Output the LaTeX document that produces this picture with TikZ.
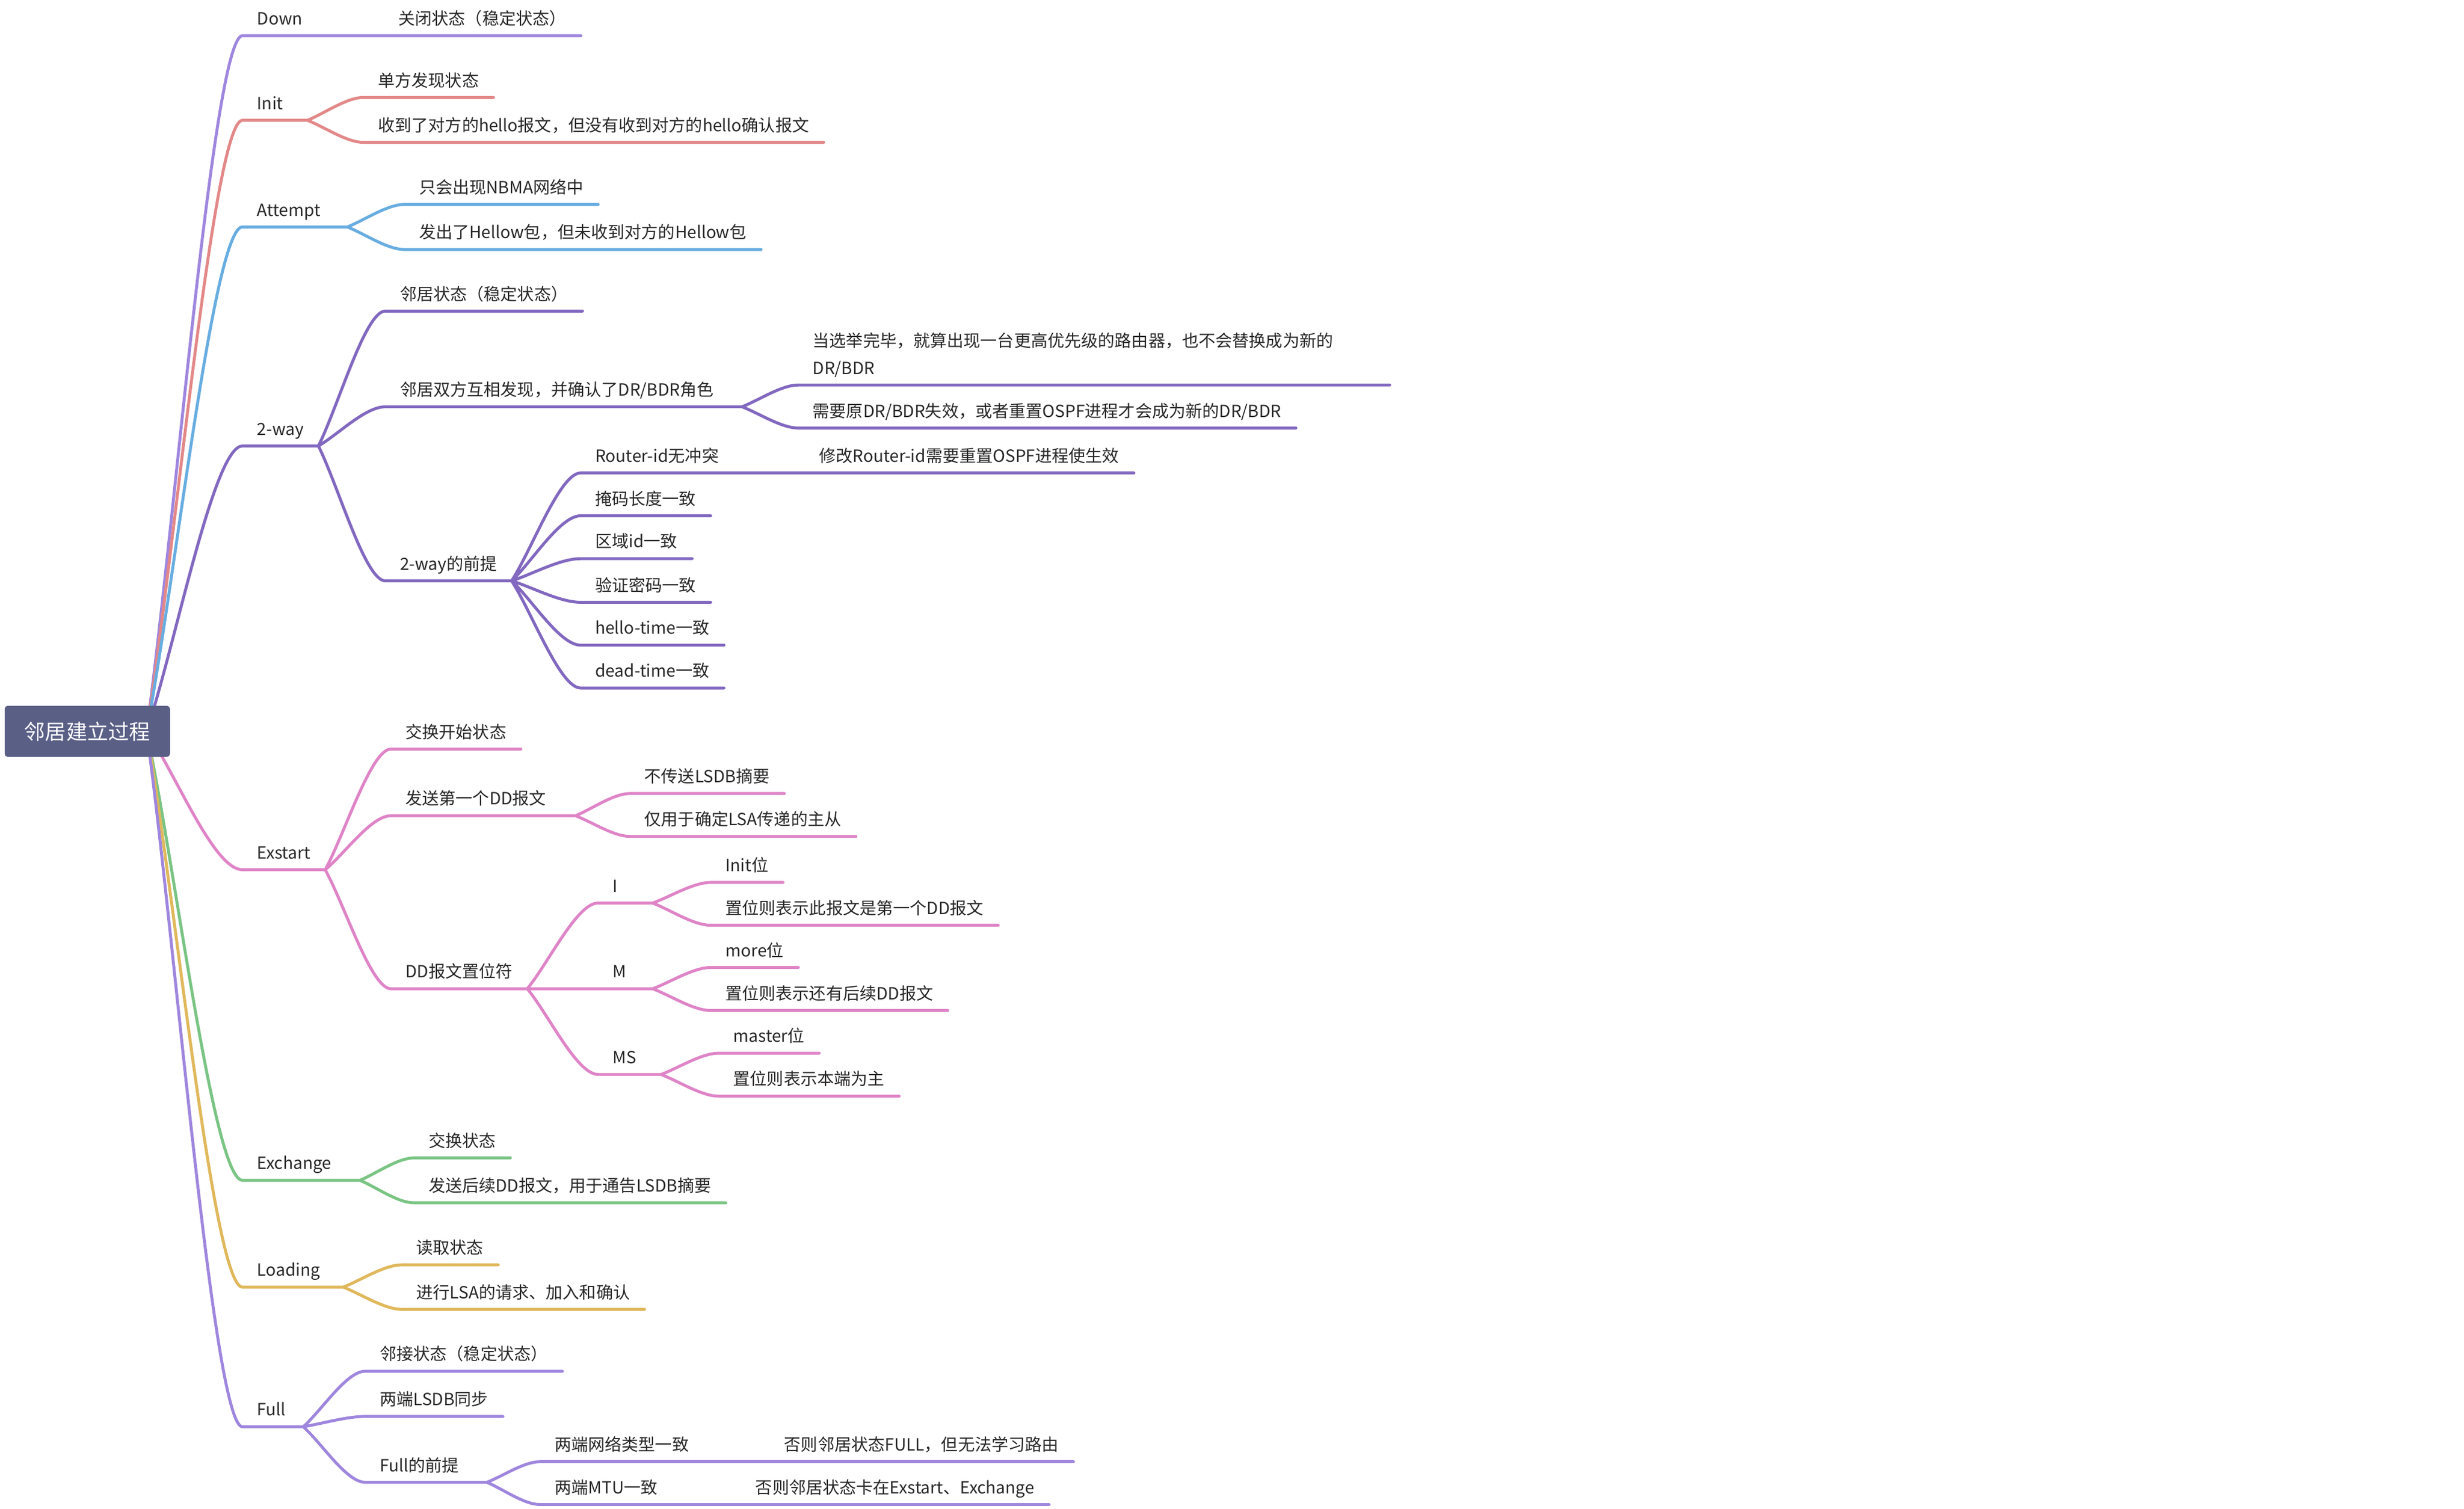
\documentclass[tikz,border=0pt]{standalone}
\usepackage{fontspec}
\setmainfont{Noto Sans CJK SC}
\usepackage{tikz}
\usetikzlibrary{calc,backgrounds}
\definecolor{croot}{RGB}{90,95,134}
\definecolor{ctxt}{RGB}{40,40,40}
\definecolor{clav}{RGB}{159,134,222}
\definecolor{csal}{RGB}{227,136,136}
\definecolor{cblu}{RGB}{104,173,225}
\definecolor{cpur}{RGB}{130,104,192}
\definecolor{cpnk}{RGB}{223,132,199}
\definecolor{cgrn}{RGB}{122,196,132}
\definecolor{cgld}{RGB}{224,184,92}
\tikzstyle{tp}=[anchor=south west,inner xsep=7pt,inner ysep=5.2pt,outer sep=0pt,text depth=0pt,text=ctxt,font=\fontsize{8pt}{12.9pt}\selectfont]
\tikzstyle{rt}=[fill=croot,text=white,rounded corners=1.5pt,minimum width=78.8pt,minimum height=24.4pt,inner sep=0pt,font=\fontsize{10pt}{12pt}\selectfont]
\tikzstyle{br}=[line width=1.4pt,line cap=round,to path={.. controls ($(\tikztostart)!0.3!(\tikztotarget)$) and ($(\tikztotarget)!0.3!(\tikztostart |- \tikztotarget)$) .. (\tikztotarget)}]

\begin{document}
\begin{tikzpicture}[x=0.026598cm,y=-0.026598cm]
	\useasboundingbox (0,0) rectangle (1552,950.45);

	\node[rt] (root) at (55,460.8) {邻居建立过程};
	\coordinate (o) at ($(root.east)+(-15,0)$);

	\node[tp] (down) at (152.7,22.5) {Down};
	\node[tp] (downa) at (241.7,22.5) {关闭状态（稳定状态）};

	\node[tp,text width=17pt] (init) at (152.7,75.8) {Init};
	\node[tp] (inita) at (228.9,61.4) {单方发现状态};
	\node[tp] (initb) at (228.9,89.7) {收到了对方的hello报文，但没有收到对方的hello确认报文};

	\node[tp,text width=36pt] (att) at (152.7,143) {Attempt};
	\node[tp] (atta) at (254.7,128.8) {只会出现NBMA网络中};
	\node[tp] (attb) at (254.7,157.2) {发出了Hellow包，但未收到对方的Hellow包};

	\node[tp] (two) at (152.7,281) {2-way};
	\node[tp] (twoa) at (242.7,196) {邻居状态（稳定状态）};
	\node[tp,text width=156pt] (twob) at (242.7,256.3) {邻居双方互相发现，并确认了DR/BDR角色};
	\node[tp] (twoba) at (502.7,242.6) {\begin{tabular}[b]{@{}p{268pt}@{}}当选举完毕，就算出现一台更高优先级的路由器，也不会替换成为新的\\DR/BDR\end{tabular}};
	\node[tp] (twobb) at (502.7,269.7) {需要原DR/BDR失效，或者重置OSPF进程才会成为新的DR/BDR};
	\node[tp] (twoc) at (242.7,366) {2-way的前提};
	\node[tp] (twoca) at (365.7,298) {Router-id无冲突};
	\node[tp] (twocaa) at (506.7,298) {修改Router-id需要重置OSPF进程使生效};
	\node[tp] (twocb) at (365.7,325) {掩码长度一致};
	\node[tp] (twocc) at (365.7,352) {区域id一致};
	\node[tp] (twocd) at (365.7,379.5) {验证密码一致};
	\node[tp] (twoce) at (365.7,406.5) {hello-time一致};
	\node[tp] (twocf) at (365.7,433.5) {dead-time一致};

	\node[tp] (exs) at (152.7,548) {Exstart};
	\node[tp] (exsa) at (246.2,472) {交换开始状态};
	\node[tp,text width=74pt] (exsb) at (246.2,514) {发送第一个DD报文};
	\node[tp] (exsba) at (396.7,500) {不传送LSDB摘要};
	\node[tp] (exsbb) at (396.7,527) {仅用于确定LSA传递的主从};
	\node[tp] (exsc) at (246.2,623) {DD报文置位符};
	\node[tp,text width=12pt] (bi) at (376.7,569) {I};
	\node[tp] (bia) at (447.7,556) {Init位};
	\node[tp] (bib) at (447.7,583) {置位则表示此报文是第一个DD报文};
	\node[tp,text width=12pt] (bm) at (376.7,623) {M};
	\node[tp] (bma) at (447.7,609.6) {more位};
	\node[tp] (bmb) at (447.7,636.7) {置位则表示还有后续DD报文};
	\node[tp,text width=16pt] (bms) at (376.7,677) {MS};
	\node[tp] (bmsa) at (452.7,663.6) {master位};
	\node[tp] (bmsb) at (452.7,690.7) {置位则表示本端为主};

	\node[tp,text width=42pt] (exc) at (152.7,743.7) {Exchange};
	\node[tp] (exca) at (260.7,729.6) {交换状态};
	\node[tp] (excb) at (260.7,757.9) {发送后续DD报文，用于通告LSDB摘要};

	\node[tp,text width=34pt] (load) at (152.7,811) {Loading};
	\node[tp] (loada) at (253,797) {读取状态};
	\node[tp] (loadb) at (253,825) {进行LSA的请求、加入和确认};

	\node[tp,text width=15pt] (full) at (152.7,899) {Full};
	\node[tp] (fulla) at (230,864) {邻接状态（稳定状态）};
	\node[tp] (fullb) at (230,892.5) {两端LSDB同步};
	\node[tp,text width=44pt] (fullc) at (230,934) {Full的前提};
	\node[tp] (fullca) at (340.1,921) {两端网络类型一致};
	\node[tp] (fullcaa) at (484.7,921) {否则邻居状态FULL，但无法学习路由};
	\node[tp] (fullcb) at (340.1,948) {两端MTU一致};
	\node[tp] (fullcba) at (466.7,948) {否则邻居状态卡在Exstart、Exchange};

	\begin{scope}[on background layer]
	\fill[white] (0,0) rectangle (1552,950.45);

	\draw[br,clav]
	(o) to (down.south west)
	(down.south west) -- (down.south east)
	(down.south east) to (downa.south west)
	(downa.south west) -- (downa.south east)
	;

	\draw[br,csal]
	(o) to (init.south west)
	(init.south west) -- (init.south east)
	(init.south east) to (inita.south west)
	(init.south east) to (initb.south west)
	(inita.south west) -- (inita.south east)
	(initb.south west) -- (initb.south east)
	;

	\draw[br,cblu]
	(o) to (att.south west)
	(att.south west) -- (att.south east)
	(att.south east) to (atta.south west)
	(att.south east) to (attb.south west)
	(atta.south west) -- (atta.south east)
	(attb.south west) -- (attb.south east)
	;

	\draw[br,cpur]
	(o) to (two.south west)
	(two.south west) -- (two.south east)
	(two.south east) to (twoa.south west)
	(two.south east) to (twob.south west)
	(two.south east) to (twoc.south west)
	(twoa.south west) -- (twoa.south east)
	(twob.south west) -- (twob.south east)
	(twoc.south west) -- (twoc.south east)

	(twob.south east) to (twoba.south west)
	(twob.south east) to (twobb.south west)
	(twoba.south west) -- (twoba.south east)
	(twobb.south west) -- (twobb.south east)

	(twoc.south east) to (twoca.south west)
	(twoc.south east) to (twocb.south west)
	(twoc.south east) to (twocc.south west)
	(twoc.south east) to (twocd.south west)
	(twoc.south east) to (twoce.south west)
	(twoc.south east) to (twocf.south west)
	(twoca.south west) -- (twoca.south east)
	(twocb.south west) -- (twocb.south east)
	(twocc.south west) -- (twocc.south east)
	(twocd.south west) -- (twocd.south east)
	(twoce.south west) -- (twoce.south east)
	(twocf.south west) -- (twocf.south east)

	(twoca.south east) to (twocaa.south west)
	(twocaa.south west) -- (twocaa.south east)
	;

	\draw[br,cpnk]
	(o) to (exs.south west)
	(exs.south west) -- (exs.south east)
	(exs.south east) to (exsa.south west)
	(exs.south east) to (exsb.south west)
	(exs.south east) to (exsc.south west)
	(exsa.south west) -- (exsa.south east)
	(exsb.south west) -- (exsb.south east)
	(exsc.south west) -- (exsc.south east)

	(exsb.south east) to (exsba.south west)
	(exsb.south east) to (exsbb.south west)
	(exsba.south west) -- (exsba.south east)
	(exsbb.south west) -- (exsbb.south east)

	(exsc.south east) to (bi.south west)
	(exsc.south east) to (bm.south west)
	(exsc.south east) to (bms.south west)
	(bi.south west) -- (bi.south east)
	(bm.south west) -- (bm.south east)
	(bms.south west) -- (bms.south east)

	(bi.south east) to (bia.south west)
	(bi.south east) to (bib.south west)
	(bia.south west) -- (bia.south east)
	(bib.south west) -- (bib.south east)

	(bm.south east) to (bma.south west)
	(bm.south east) to (bmb.south west)
	(bma.south west) -- (bma.south east)
	(bmb.south west) -- (bmb.south east)

	(bms.south east) to (bmsa.south west)
	(bms.south east) to (bmsb.south west)
	(bmsa.south west) -- (bmsa.south east)
	(bmsb.south west) -- (bmsb.south east)
	;

	\draw[br,cgrn]
	(o) to (exc.south west)
	(exc.south west) -- (exc.south east)
	(exc.south east) to (exca.south west)
	(exc.south east) to (excb.south west)
	(exca.south west) -- (exca.south east)
	(excb.south west) -- (excb.south east)
	;

	\draw[br,cgld]
	(o) to (load.south west)
	(load.south west) -- (load.south east)
	(load.south east) to (loada.south west)
	(load.south east) to (loadb.south west)
	(loada.south west) -- (loada.south east)
	(loadb.south west) -- (loadb.south east)
	;

	\draw[br,clav]
	(o) to (full.south west)
	(full.south west) -- (full.south east)
	(full.south east) to (fulla.south west)
	(full.south east) to (fullb.south west)
	(full.south east) to (fullc.south west)
	(fulla.south west) -- (fulla.south east)
	(fullb.south west) -- (fullb.south east)
	(fullc.south west) -- (fullc.south east)

	(fullc.south east) to (fullca.south west)
	(fullc.south east) to (fullcb.south west)
	(fullca.south west) -- (fullca.south east)
	(fullcb.south west) -- (fullcb.south east)
	(fullca.south east) to (fullcaa.south west)
	(fullcb.south east) to (fullcba.south west)
	(fullcaa.south west) -- (fullcaa.south east)
	(fullcba.south west) -- (fullcba.south east)
	;
	\end{scope}

\end{tikzpicture}
\end{document}
